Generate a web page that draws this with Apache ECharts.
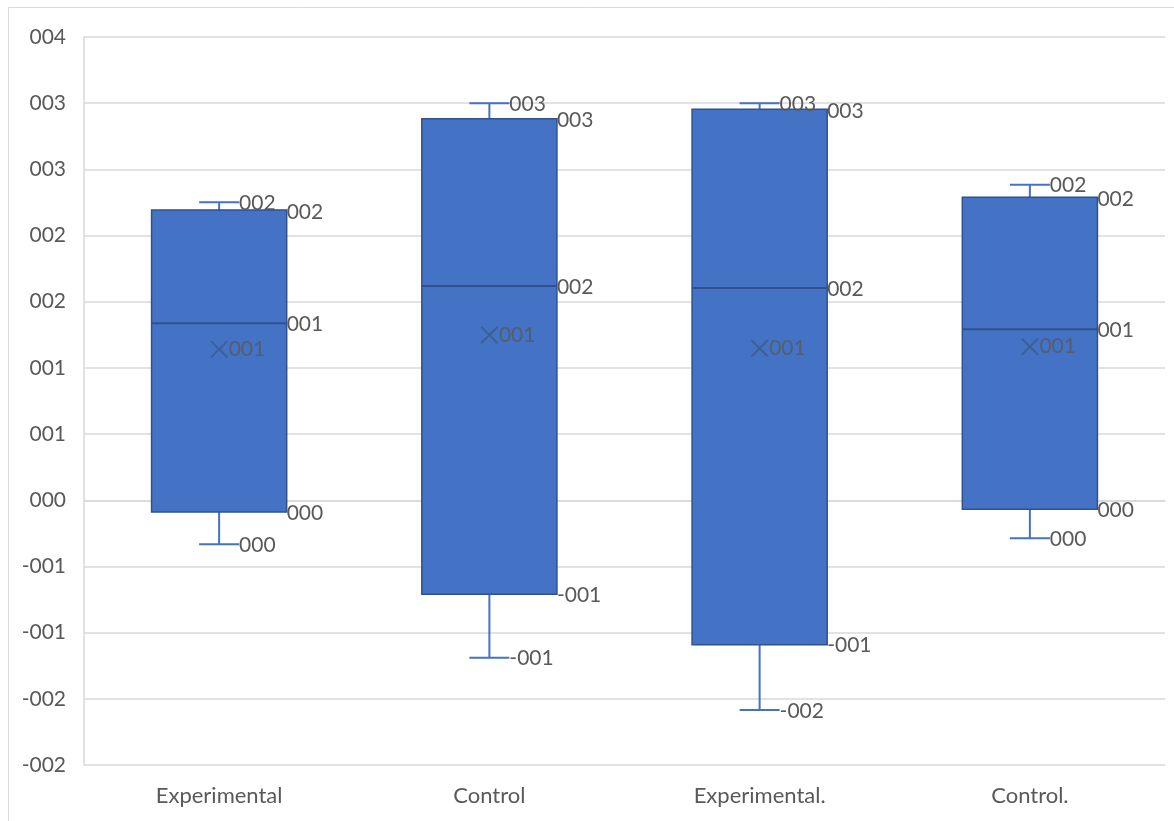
<!DOCTYPE html>
<html>
<head>
<meta charset="utf-8">
<style>
  html, body { margin: 0; padding: 0; background: #ffffff; }
  #chart { width: 1174px; height: 821px; }
</style>
<script src="https://cdn.jsdelivr.net/npm/echarts@6/dist/echarts.min.js"></script>
</head>
<body>
<div id="chart"></div>
<script>
// Box-and-whisker summary per group
const categories   = ['Experimental', 'Control', 'Experimental.', 'Control.'];
const minValues    = [-0.333, -1.189, -1.584, -0.287];
const q1Values     = [-0.088, -0.710, -1.091, -0.068];
const medianValues = [1.337, 1.619, 1.604, 1.292];
const q3Values     = [2.193, 2.883, 2.954, 2.289];
const maxValues    = [2.251, 3.000, 3.000, 2.384];
const meanValues   = [1.141, 1.249, 1.148, 1.160];

// Value axis range
const yMin = -2;
const yMax = 3.5;
const yStep = 0.5;

const FONT = 'Lato, "Open Sans", sans-serif';
const FONT_SIZE = 21;
const CAT_FONT_SIZE = 22;
const TEXT_COLOR = '#595959';
const BOX_FILL = '#4472C4';
const BOX_EDGE = '#2F528F';

// Number format "000": round half away from zero, three digits
function fmt(v) {
  const r = Math.round(Math.abs(v));
  const s = String(r).padStart(3, '0');
  return (v < 0 && r !== 0) ? '-' + s : s;
}

const boxData = categories.map((c, i) => [i, minValues[i], q1Values[i], medianValues[i], q3Values[i], maxValues[i]]);
const meanData = categories.map((c, i) => [i, meanValues[i]]);

function label(x, y, v) {
  return {
    type: 'text',
    x: x, y: y,
    z2: 10,
    style: {
      text: fmt(v),
      fill: TEXT_COLOR,
      font: FONT_SIZE + 'px ' + FONT,
      textAlign: 'left',
      textVerticalAlign: 'middle',
      align: 'left',
      verticalAlign: 'middle'
    }
  };
}

function renderBox(params, api) {
  const i = api.value(0);
  const vMin = api.value(1), vQ1 = api.value(2), vMed = api.value(3), vQ3 = api.value(4), vMax = api.value(5);
  const pMin = api.coord([i, vMin]);
  const pQ1 = api.coord([i, vQ1]);
  const pMed = api.coord([i, vMed]);
  const pQ3 = api.coord([i, vQ3]);
  const pMax = api.coord([i, vMax]);
  const band = api.size([1, 0])[0];
  const boxW = band * 0.5;
  const capW = band * 0.148;
  const cx = pMed[0];
  const lineStyle = { stroke: BOX_FILL, lineWidth: 2 };
  return {
    type: 'group',
    children: [
      { type: 'line', shape: { x1: cx, y1: pMax[1], x2: cx, y2: pQ3[1] }, style: lineStyle },
      { type: 'line', shape: { x1: cx - capW / 2, y1: pMax[1], x2: cx + capW / 2, y2: pMax[1] }, style: lineStyle },
      { type: 'line', shape: { x1: cx, y1: pQ1[1], x2: cx, y2: pMin[1] }, style: lineStyle },
      { type: 'line', shape: { x1: cx - capW / 2, y1: pMin[1], x2: cx + capW / 2, y2: pMin[1] }, style: lineStyle },
      {
        type: 'rect',
        shape: { x: cx - boxW / 2, y: pQ3[1], width: boxW, height: pQ1[1] - pQ3[1] },
        style: { fill: BOX_FILL, stroke: BOX_EDGE, lineWidth: 1.5 }
      },
      { type: 'line', shape: { x1: cx - boxW / 2, y1: pMed[1], x2: cx + boxW / 2, y2: pMed[1] }, style: { stroke: BOX_EDGE, lineWidth: 2 } },
      label(cx + capW / 2, pMax[1] + 1, vMax),
      label(cx + boxW / 2, pQ3[1] + 2, vQ3),
      label(cx + boxW / 2, pMed[1] + 1, vMed),
      label(cx + boxW / 2, pQ1[1] + 1, vQ1),
      label(cx + capW / 2, pMin[1] + 1, vMin)
    ]
  };
}

// Mean marker: thin diagonal cross
const crossPath = 'path://M0,0 L1.6,0 L10,8.4 L18.4,0 L20,0 L20,1.6 L11.6,10 L20,18.4 L20,20 L18.4,20 L10,11.6 L1.6,20 L0,20 L0,18.4 L8.4,10 L0,1.6 Z';

const chart = echarts.init(document.getElementById('chart'), null, { renderer: 'canvas' });
chart.setOption({
  animation: false,
  backgroundColor: '#ffffff',
  textStyle: { fontFamily: FONT },
  graphic: [{
    type: 'rect',
    shape: { x: 8.5, y: 7.5, width: 1200, height: 900 },
    style: { fill: 'none', stroke: '#d9d9d9', lineWidth: 1 },
    silent: true
  }],
  grid: { left: 84, right: 9, top: 37, bottom: 56, containLabel: false },
  xAxis: {
    type: 'category',
    data: categories,
    axisLine: { show: true, lineStyle: { color: '#d9d9d9', width: 1.5 } },
    axisTick: { show: false },
    axisLabel: { color: TEXT_COLOR, fontSize: CAT_FONT_SIZE, fontFamily: FONT, margin: 20 },
    splitLine: { show: false }
  },
  yAxis: {
    type: 'value',
    min: yMin,
    max: yMax,
    interval: yStep,
    axisLine: { show: true, lineStyle: { color: '#d9d9d9', width: 1.5 } },
    axisTick: { show: false },
    axisLabel: { color: TEXT_COLOR, fontSize: FONT_SIZE, fontFamily: FONT, margin: 18, formatter: fmt },
    splitLine: { show: true, lineStyle: { color: '#d9d9d9', width: 1.5 } }
  },
  series: [
    {
      type: 'custom',
      renderItem: renderBox,
      data: boxData,
      encode: { x: 0, y: [1, 2, 3, 4, 5] },
      z: 2
    },
    {
      type: 'scatter',
      data: meanData,
      symbol: crossPath,
      symbolSize: 17,
      itemStyle: { color: '#3D5A8A' },
      label: {
        show: true,
        position: 'right',
        distance: 1,
        color: TEXT_COLOR,
        fontSize: FONT_SIZE,
        fontFamily: FONT,
        formatter: p => fmt(p.value[1])
      },
      z: 5
    }
  ]
});
</script>
</body>
</html>
